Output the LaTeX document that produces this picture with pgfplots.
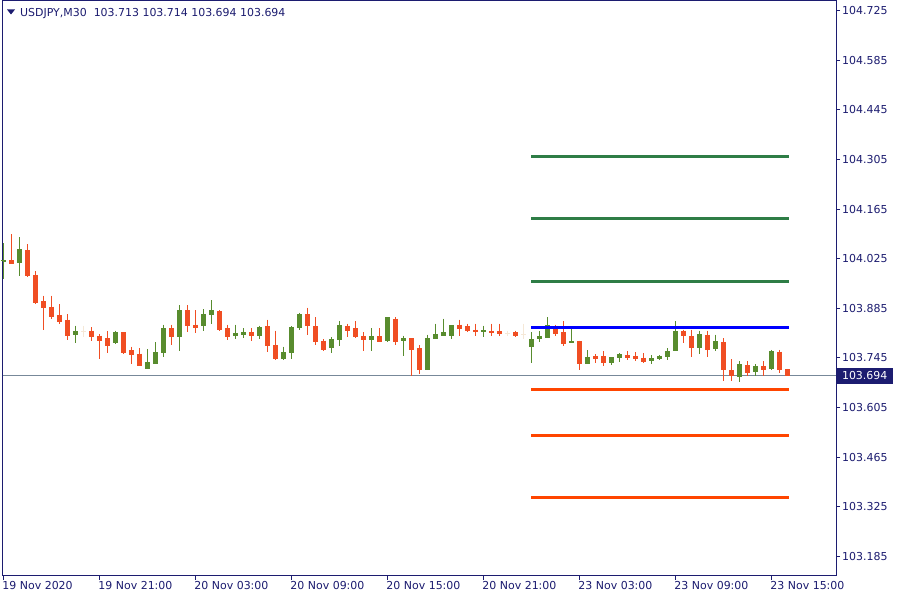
\documentclass[border=0pt]{standalone}
\usepackage{pgfplots}
\pgfplotsset{compat=1.18}
\usepackage{pgfplotstable}
\usetikzlibrary{backgrounds}
\usepackage{fontspec}
\setmainfont{DejaVu Sans}

\definecolor{fg}{RGB}{28,28,112}
\definecolor{bullc}{RGB}{88,140,46}
\definecolor{bearc}{RGB}{240,78,35}
\definecolor{dojic}{RGB}{245,232,215}
\definecolor{resc}{RGB}{46,125,70}
\definecolor{supc}{RGB}{255,69,0}
\definecolor{pivc}{RGB}{0,0,255}
\definecolor{bidc}{RGB}{119,136,153}

\newcommand\lab{\fontsize{11}{13}\selectfont}

% USDJPY M30 candles, bar index i (0 = 19 Nov 15:00)
\pgfplotstableread{
i O H L C
0 104.015 104.068 103.967 104.020
2 104.012 104.085 103.976 104.051
9 103.809 103.836 103.787 103.820
14 103.787 103.822 103.783 103.817
18 103.713 103.769 103.713 103.732
19 103.729 103.789 103.727 103.760
20 103.758 103.839 103.747 103.828
22 103.804 103.893 103.764 103.879
25 103.835 103.882 103.820 103.868
26 103.866 103.907 103.840 103.879
29 103.806 103.839 103.797 103.814
30 103.809 103.828 103.800 103.817
32 103.806 103.836 103.798 103.831
35 103.741 103.777 103.739 103.760
36 103.758 103.834 103.741 103.831
37 103.828 103.873 103.825 103.868
41 103.772 103.803 103.758 103.797
42 103.795 103.848 103.778 103.836
46 103.795 103.828 103.764 103.806
48 103.792 103.859 103.791 103.859
50 103.792 103.808 103.749 103.800
53 103.711 103.811 103.710 103.800
54 103.798 103.842 103.798 103.811
55 103.808 103.856 103.806 103.817
56 103.808 103.836 103.798 103.836
60 103.820 103.836 103.804 103.822
66 103.775 103.817 103.730 103.797
67 103.798 103.820 103.789 103.806
68 103.801 103.859 103.801 103.836
71 103.787 103.828 103.787 103.792
73 103.728 103.766 103.728 103.747
76 103.730 103.746 103.725 103.746
77 103.744 103.758 103.733 103.755
81 103.736 103.752 103.728 103.744
82 103.741 103.752 103.739 103.750
83 103.747 103.772 103.739 103.763
84 103.764 103.848 103.764 103.820
87 103.773 103.822 103.756 103.811
89 103.769 103.811 103.764 103.792
92 103.691 103.735 103.677 103.727
94 103.705 103.727 103.694 103.721
96 103.713 103.768 103.711 103.763
}\bull

\pgfplotstableread{
i O H L C
1 104.020 104.094 104.012 104.012
3 104.048 104.065 103.973 103.978
4 103.979 103.989 103.897 103.902
5 103.905 103.921 103.823 103.888
6 103.890 103.921 103.854 103.863
7 103.865 103.896 103.840 103.849
8 103.853 103.868 103.795 103.809
11 103.822 103.831 103.792 103.804
12 103.808 103.813 103.741 103.795
13 103.800 103.820 103.758 103.781
15 103.817 103.817 103.755 103.761
16 103.766 103.777 103.727 103.755
17 103.757 103.772 103.724 103.724
21 103.828 103.839 103.780 103.806
23 103.879 103.893 103.819 103.836
24 103.839 103.879 103.815 103.831
27 103.876 103.879 103.820 103.826
28 103.828 103.839 103.795 103.806
31 103.817 103.828 103.792 103.809
33 103.834 103.853 103.763 103.780
34 103.780 103.822 103.739 103.744
38 103.868 103.887 103.809 103.835
39 103.834 103.859 103.781 103.792
40 103.794 103.797 103.764 103.769
43 103.836 103.842 103.804 103.823
44 103.828 103.848 103.801 103.804
45 103.806 103.817 103.764 103.798
47 103.806 103.828 103.789 103.792
49 103.856 103.859 103.781 103.792
51 103.800 103.800 103.695 103.769
52 103.772 103.781 103.700 103.713
57 103.839 103.853 103.806 103.829
58 103.834 103.842 103.817 103.822
59 103.825 103.842 103.808 103.820
61 103.822 103.842 103.808 103.817
62 103.820 103.842 103.808 103.814
64 103.817 103.822 103.804 103.808
69 103.836 103.839 103.807 103.814
70 103.817 103.848 103.778 103.787
72 103.792 103.794 103.711 103.728
74 103.750 103.755 103.730 103.744
75 103.749 103.764 103.722 103.733
78 103.753 103.764 103.739 103.747
79 103.750 103.761 103.736 103.744
80 103.746 103.758 103.730 103.736
85 103.822 103.825 103.787 103.807
86 103.806 103.825 103.747 103.773
88 103.811 103.822 103.747 103.769
90 103.789 103.800 103.680 103.711
91 103.710 103.741 103.680 103.694
93 103.724 103.735 103.694 103.705
95 103.721 103.735 103.694 103.713
97 103.763 103.768 103.702 103.713
98 103.713 103.714 103.694 103.694
}\bear

\pgfplotstableread{
i O H L C
10 103.819 103.835 103.805 103.819
63 103.815 103.822 103.806 103.815
65 103.811 103.842 103.798 103.811
}\doji

\pgfplotsset{
  wick/.style={draw=none, forget plot,
    error bars/.cd, y dir=both, y explicit, error mark=none,
    error bar style={draw=#1, line width=1bp}},
  body/.style={draw=none, forget plot,
    error bars/.cd, y dir=both, y explicit, error mark=none,
    error bar style={draw=#1, line width=5bp}},
  level/.style={#1, line width=3bp, forget plot},
}

\begin{document}
\begin{tikzpicture}
\begin{axis}[
  name=ax, anchor=south west,
  scale only axis, width=833.5bp, height=575bp,
  xmin=-0.1, xmax=104.09, ymin=103.1312, ymax=104.7532,
  axis line style={fg, line width=1bp},
  tick align=outside, major tick length=4bp,
  tick style={fg, line width=1bp},
  xtick pos=lower, ytick pos=right, yticklabel pos=right,
  xtick={0,12,24,36,48,60,72,84,96},
  xticklabels={19 Nov 2020, 19 Nov 21:00, 20 Nov 03:00, 20 Nov 09:00, 20 Nov 15:00, 20 Nov 21:00, 23 Nov 03:00, 23 Nov 09:00, 23 Nov 15:00},
  ytick={103.185,103.325,103.465,103.605,103.745,103.885,104.025,104.165,104.305,104.445,104.585,104.725},
  yticklabels={103.185,103.325,103.465,103.605,103.745,103.885,104.025,104.165,104.305,104.445,104.585,104.725},
  xticklabel style={anchor=north west, inner sep=0pt, font=\lab, text=fg, xshift=-1bp, yshift=-2bp},
  yticklabel style={anchor=west, inner sep=0pt, font=\lab, text=fg, xshift=2bp},
]
% bid line
\addplot[bidc, line width=1bp, forget plot] coordinates {(-0.1,103.694) (104.09,103.694)};

% wicks
\addplot[wick=bullc] table[x=i, y=H, y error plus expr=0, y error minus expr=\thisrow{H}-\thisrow{L}] {\bull};
\addplot[wick=bearc] table[x=i, y=H, y error plus expr=0, y error minus expr=\thisrow{H}-\thisrow{L}] {\bear};
\addplot[wick=dojic] table[x=i, y=H, y error plus expr=0, y error minus expr=\thisrow{H}-\thisrow{L}] {\doji};

% bodies
\addplot[body=bullc] table[x=i, y=C, y error plus expr=0, y error minus expr=\thisrow{C}-\thisrow{O}] {\bull};
\addplot[body=bearc] table[x=i, y=O, y error plus expr=0, y error minus expr=\thisrow{O}-\thisrow{C}] {\bear};
\addplot[only marks, mark=-, mark size=2.5bp, mark options={bullc, line width=1bp}, forget plot] table[x=i, y=C] {\bull};
\addplot[only marks, mark=-, mark size=2.5bp, mark options={bearc, line width=1bp}, forget plot] table[x=i, y=C] {\bear};
\addplot[only marks, mark=-, mark size=2.5bp, mark options={dojic, line width=1bp}, forget plot] table[x=i, y=C] {\doji};

% pivot levels for 23 Nov
\addplot[level=resc] coordinates {(66,104.313) (98.2,104.313)};
\addplot[level=resc] coordinates {(66,104.138) (98.2,104.138)};
\addplot[level=resc] coordinates {(66,103.961) (98.2,103.961)};
\addplot[level=pivc] coordinates {(66,103.831) (98.2,103.831)};
\addplot[level=supc] coordinates {(66,103.656) (98.2,103.656)};
\addplot[level=supc] coordinates {(66,103.526) (98.2,103.526)};
\addplot[level=supc] coordinates {(66,103.351) (98.2,103.351)};

\coordinate (bid) at (axis cs:104.09,103.694);
\end{axis}
% canvas: 900 x 600 bp around the plot box
\path[use as bounding box] ([shift={(-2.5bp,-25bp)}]ax.south west) coordinate (C0)
  rectangle ++(900bp,600bp) coordinate (C1);
\begin{scope}[on background layer]
\fill[white] (C0) rectangle (C1);
\end{scope}
% current price tag
\node[anchor=west, fill=fg, text=white, font=\lab, inner xsep=4bp, inner ysep=0pt,
      minimum height=16bp, minimum width=56bp, xshift=0.5bp] at (bid) {103.694};
% symbol header
\fill[fg] ([shift={(7bp,-9bp)}]C0 |- C1) -- ++(8bp,0) -- ++(-4bp,-5bp) -- cycle;
\node[anchor=base west, font=\lab, text=fg, inner sep=0pt] at ([shift={(20bp,-16bp)}]C0 |- C1)
  {USDJPY,M30\ \ 103.713 103.714 103.694 103.694};
\end{tikzpicture}
\end{document}
